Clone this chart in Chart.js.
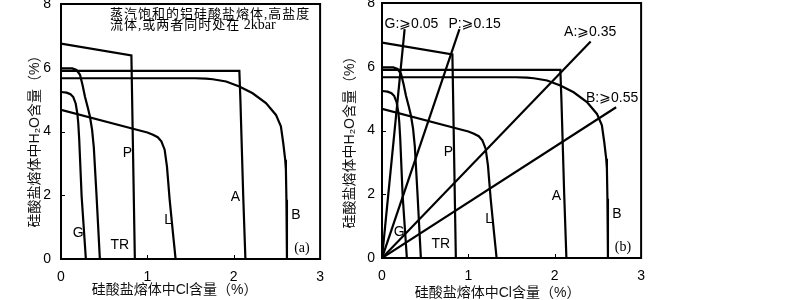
<!DOCTYPE html>
<html><head><meta charset="utf-8">
<script src="https://cdn.jsdelivr.net/npm/chart.js@4/dist/chart.umd.min.js"></script>
<style>
html,body{margin:0;padding:0;background:#fff;width:800px;height:300px;overflow:hidden;position:relative}
canvas{position:absolute}
#ca{left:0;top:-20px;width:334px;height:320px}
#cb{left:321px;top:-21px;width:334px;height:320px}
</style></head><body>
<canvas id="ca" width="334" height="320"></canvas>
<canvas id="cb" width="334" height="320"></canvas>
<script>
// ---- data (Cl wt% in melt vs H2O wt% in melt) ----
const xTickValues = [0, 1, 2, 3];
const yTickValues = [0, 2, 4, 6, 8];
const innerXTicks = [1, 2];
const innerYTicks = [2, 4, 6];

const gX  = [0, 0.065, 0.11, 0.142, 0.17, 0.19, 0.2, 0.211, 0.239, 0.288];
const gY  = [5.24, 5.22, 5.17, 5.08, 4.88, 4.55, 4.26, 3.74, 1.96, 0];
const trX = [0, 0.13, 0.18, 0.22, 0.25, 0.277, 0.31, 0.335, 0.36, 0.38, 0.412, 0.45];
const trY = [5.98, 5.98, 5.93, 5.78, 5.45, 5.1, 4.75, 4.47, 4.05, 3.5, 1.96, 0];
const pX  = [0, 0.815, 0.855];
const pY  = [6.76, 6.39, 0];
const lX  = [0, 0.911, 1.0, 1.065, 1.12, 1.162, 1.2, 1.227, 1.258, 1.296, 1.327];
const lY  = [4.68, 4.03, 3.97, 3.9, 3.82, 3.69, 3.43, 2.9, 1.86, 0.82, 0];
const aX  = [0, 2.065, 2.077, 2.11, 2.135];
const aY  = [5.9, 5.9, 5.0, 1.96, 0];
const bX  = [0, 1.55, 1.68, 1.757, 1.912, 2.065, 2.219, 2.373, 2.489, 2.546, 2.573, 2.596, 2.604, 2.61, 2.616];
const bY  = [5.67, 5.67, 5.66, 5.64, 5.57, 5.41, 5.2, 4.89, 4.52, 4.16, 3.64, 3.11, 2.8, 1.86, 0];

const curveLabelText = ['G', 'TR', 'P', 'L', 'A', 'B'];
const curveLabelX = [0.2, 0.68, 0.77, 1.24, 2.02, 2.72];
const curveLabelY = [0.82, 0.45, 3.33, 1.22, 1.94, 1.38];

// ratio lines (panel b) from the origin
const rayText = ['G:\u2A7E0.05', 'P:\u2A7E0.15', 'A:\u2A7E0.35', 'B:\u2A7E0.55'];
const rayEndX = [0.262, 0.897, 2.416, 2.711];
const rayEndY = [7.18, 7.18, 6.79, 4.73];
const rayLabelX = [0.03, 0.77, 2.108, 2.362];
const rayLabelY = [7.34, 7.34, 7.08, 5.02];

const tagX = 2.79, tagY = 0.34;
// note: [CJK part, latin part] per line
const noteLines = [['蒸汽饱和的铝硅酸盐熔体,高盐度', ''], ['流体,或两者同时处在', ' 2kbar']];
const xTitle = '硅酸盐熔体中Cl含量（%）';
const yTitle = '硅酸盐熔体中H\u2082O含量（%）';

function pts(xs, ys) { return xs.map((v, i) => ({x: v, y: ys[i]})); }
const curves = [[gX, gY], [trX, trY], [pX, pY], [lX, lY], [aX, aY], [bX, bY]];

function lineDs(data) {
  return {data, showLine: true, borderColor: '#000', borderWidth: 2.2, pointRadius: 0,
          tension: 0, fill: false, borderJoinStyle: 'miter'};
}

const panelText = {
  id: 'panelText',
  afterDatasetsDraw(chart, args, o) {
    const {ctx, chartArea: ca, scales: {x, y}} = chart;
    ctx.save();
    ctx.strokeStyle = '#000';
    ctx.lineWidth = 2;
    ctx.strokeRect(ca.left, ca.top, ca.right - ca.left, ca.bottom - ca.top);
    ctx.lineWidth = 1;
    ctx.beginPath();
    innerXTicks.forEach(v => { const px = Math.round(x.getPixelForValue(v)) + 0.5; ctx.moveTo(px, ca.bottom); ctx.lineTo(px, ca.bottom - 4); });
    innerYTicks.forEach(v => { const py = Math.round(y.getPixelForValue(v)) + 0.5; ctx.moveTo(ca.left, py); ctx.lineTo(ca.left + 4, py); });
    ctx.stroke();

    ctx.fillStyle = '#000';
    ctx.textAlign = 'center';
    ctx.textBaseline = 'middle';
    ctx.font = "14px 'Liberation Sans', Arial, sans-serif";
    curveLabelText.forEach((t, i) => ctx.fillText(t, x.getPixelForValue(curveLabelX[i]), y.getPixelForValue(curveLabelY[i])));
    ctx.font = "14px 'Liberation Serif', serif";
    ctx.fillText(o.tag, x.getPixelForValue(tagX), y.getPixelForValue(tagY));

    if (o.rays) {
      ctx.textAlign = 'left';
      ctx.font = "14px 'Liberation Sans', 'DejaVu Sans', sans-serif";
      rayText.forEach((t, i) => ctx.fillText(t, x.getPixelForValue(rayLabelX[i]), y.getPixelForValue(rayLabelY[i])));
    }
    if (o.note) {
      ctx.textAlign = 'left';
      noteLines.forEach((parts, i) => {
        const ty = ca.top + 11 + i * 10.8;
        let tx = ca.left + 49;
        ctx.font = "13px 'Liberation Serif', 'Noto Sans CJK SC', serif";
        try { ctx.letterSpacing = '1px'; } catch (e) {}
        ctx.fillText(parts[0], tx, ty);
        tx += ctx.measureText(parts[0]).width;
        try { ctx.letterSpacing = '0px'; } catch (e) {}
        ctx.font = "14px 'Liberation Serif', serif";
        if (parts[1]) ctx.fillText(parts[1], tx, ty);
      });
    }
    // axis titles
    ctx.fillStyle = '#111';
    ctx.font = "14px 'Liberation Sans', 'Noto Sans CJK SC', sans-serif";
    ctx.textAlign = 'center';
    ctx.fillText(xTitle, (ca.left + ca.right) / 2 + o.xtDx, ca.bottom + o.xtDy);
    ctx.save();
    ctx.translate(ca.left + o.ytDx, (ca.top + ca.bottom) / 2 + o.ytDy);
    ctx.rotate(-Math.PI / 2);
    ctx.fillText(yTitle, 0, 0);
    ctx.restore();
    ctx.restore();
  }
};

function makeChart(id, withRays, opts) {
  const datasets = curves.map(c => lineDs(pts(c[0], c[1])));
  if (withRays) {
    rayEndX.forEach((ex, i) => datasets.push(lineDs(pts([0, ex], [0, rayEndY[i]]))));
  }
  return new Chart(document.getElementById(id), {
    type: 'scatter',
    data: {datasets},
    plugins: [panelText],
    options: {
      responsive: false,
      animation: false,
      layout: {padding: {top: 24, left: 0, right: 13, bottom: 0}},
      plugins: {legend: {display: false}, tooltip: {enabled: false}, panelText: opts},
      scales: {
        x: {
          type: 'linear', min: 0, max: 3,
          afterBuildTicks: s => { s.ticks = xTickValues.map(v => ({value: v})); },
          afterFit: s => { s.height = 41; },
          grid: {display: false, drawTicks: false},
          border: {display: false},
          ticks: {padding: 10, color: '#000', font: {family: "'Liberation Sans', Arial, sans-serif", size: 14}}
        },
        y: {
          type: 'linear', min: 0, max: 8,
          afterBuildTicks: s => { s.ticks = yTickValues.map(v => ({value: v})); },
          afterFit: s => { s.width = 61; },
          grid: {display: false, drawTicks: false},
          border: {display: false},
          ticks: {padding: opts.yPad, color: '#000', font: {family: "'Liberation Sans', Arial, sans-serif", size: 14}}
        }
      }
    }
  });
}

makeChart('ca', false, {tag: '(a)', note: true, rays: false, yPad: 10, xtDx: -16, xtDy: 31, ytDx: -26, ytDy: 6.5});
makeChart('cb', true, {tag: '(b)', note: false, rays: true, yPad: 7, xtDx: -14, xtDy: 35, ytDx: -32, ytDy: 8.5});
</script>
</body></html>
